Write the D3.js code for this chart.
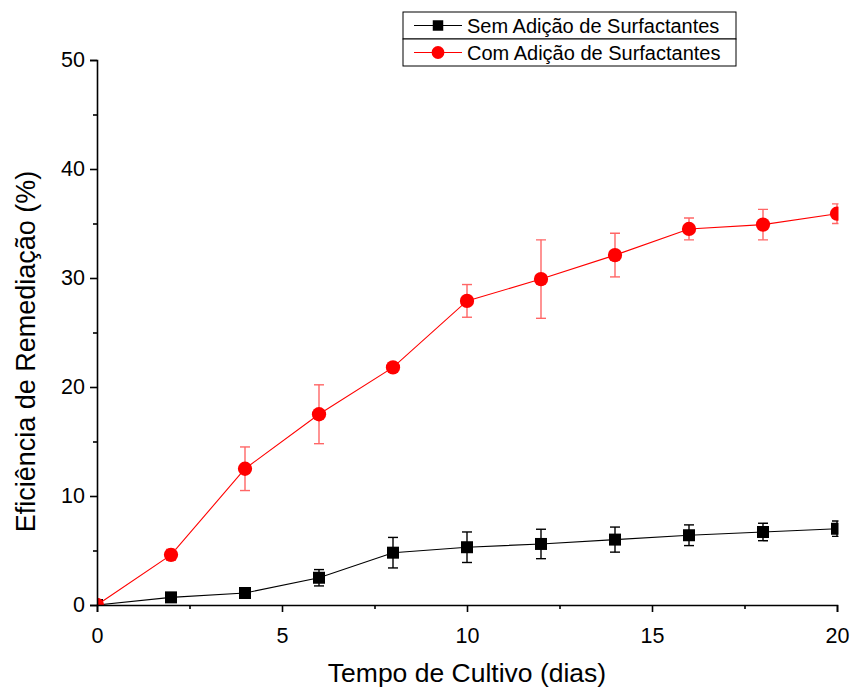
<!DOCTYPE html>
<html>
<head>
<meta charset="utf-8">
<script src="https://cdn.jsdelivr.net/npm/d3@7"></script>
<style>
  body { margin: 0; background: #fff; }
  svg { font-family: "Liberation Sans", Arial, sans-serif; }
</style>
</head>
<body>
<svg id="chart" width="852" height="690"></svg>
<script>
// days of cultivation
const days = [0, 2, 4, 6, 8, 10, 12, 14, 16, 18, 20];
// Sem Adição de Surfactantes
const semValues = [0, 0.7, 1.1, 2.5, 4.8, 5.3, 5.6, 6.0, 6.4, 6.7, 7.0];
const semErrors = [0, 0, 0, 0.75, 1.4, 1.4, 1.35, 1.15, 0.95, 0.8, 0.7];
// Com Adição de Surfactantes
const comValues = [0, 4.6, 12.5, 17.5, 21.8, 27.9, 29.9, 32.1, 34.5, 34.9, 35.9];
const comErrors = [0, 0.5, 2.0, 2.7, 0.3, 1.5, 3.6, 2.0, 1.0, 1.4, 0.9];

const xTicks = [0, 5, 10, 15, 20];
const yTicks = [0, 10, 20, 30, 40, 50];

const svg = d3.select('#chart');

const x = d3.scaleLinear().domain([0, 20]).range([97, 837]);
const y = d3.scaleLinear().domain([0, 50]).range([605, 60]);

const series = [
  { name: 'Sem Adição de Surfactantes', values: semValues, errors: semErrors, color: '#000', errColor: '#000', shape: 'square' },
  { name: 'Com Adição de Surfactantes', values: comValues, errors: comErrors, color: '#ff0000', errColor: '#ff6666', shape: 'circle' }
];

// plot area clip (markers at the edges are cut like in the original)
svg.append('defs').append('clipPath').attr('id', 'plot-clip')
  .append('rect')
  .attr('x', x(0)).attr('y', y(50))
  .attr('width', x(20) - x(0) + 1.5).attr('height', y(0) - y(50));

const line = d3.line().x(d => x(d[0])).y(d => y(d[1]));
const plot = svg.append('g').attr('clip-path', 'url(#plot-clip)');

series.forEach(s => {
  const pts = days.map((d, i) => [d, s.values[i], s.errors[i]]);
  const g = plot.append('g');

  g.append('path')
    .datum(pts)
    .attr('d', line)
    .attr('fill', 'none')
    .attr('stroke', s.color)
    .attr('stroke-width', 1.1);

  const eb = g.selectAll('g.err').data(pts.filter(p => p[2] > 0)).enter().append('g')
    .attr('stroke', s.errColor)
    .attr('stroke-width', 1.4);
  eb.append('line')
    .attr('x1', d => x(d[0])).attr('x2', d => x(d[0]))
    .attr('y1', d => y(d[1] - d[2])).attr('y2', d => y(d[1] + d[2]));
  eb.append('line')
    .attr('x1', d => x(d[0]) - 5).attr('x2', d => x(d[0]) + 5)
    .attr('y1', d => y(d[1] + d[2])).attr('y2', d => y(d[1] + d[2]));
  eb.append('line')
    .attr('x1', d => x(d[0]) - 5).attr('x2', d => x(d[0]) + 5)
    .attr('y1', d => y(d[1] - d[2])).attr('y2', d => y(d[1] - d[2]));

  const sym = d3.symbol().type(s.shape === 'square' ? d3.symbolSquare : d3.symbolCircle)
    .size(s.shape === 'square' ? 144 : 160);
  g.selectAll('path.marker').data(pts).enter().append('path')
    .attr('class', 'marker')
    .attr('transform', d => `translate(${x(d[0])},${y(d[1])})`)
    .attr('d', sym)
    .attr('fill', s.color);
});

// axes
const xAxis = svg.append('g')
  .attr('transform', `translate(0,${y(0)})`)
  .call(d3.axisBottom(x).tickValues(xTicks).tickSize(7).tickFormat(d3.format('d')));
svg.append('g')
  .attr('transform', `translate(0,${y(0)})`)
  .call(d3.axisBottom(x).tickValues(d3.range(2.5, 20, 5)).tickSize(4).tickFormat(''))
  .select('.domain').remove();

const yAxis = svg.append('g')
  .attr('transform', `translate(${x(0)},0)`)
  .call(d3.axisLeft(y).tickValues(yTicks).tickSize(7).tickPadding(5));
svg.append('g')
  .attr('transform', `translate(${x(0)},0)`)
  .call(d3.axisLeft(y).tickValues(d3.range(5, 50, 10)).tickSize(4).tickFormat(''))
  .select('.domain').remove();

svg.selectAll('.domain').attr('stroke-width', 1.6).attr('stroke', '#000');
svg.selectAll('.tick line').attr('stroke-width', 1.6).attr('stroke', '#000');
svg.selectAll('.tick text').attr('font-size', 21.5).attr('fill', '#000')
  .attr('font-family', '"Liberation Sans", Arial, sans-serif');
xAxis.selectAll('.tick text').attr('y', 38).attr('dy', null);

// axis titles
svg.append('text')
  .attr('x', (x(0) + x(20)) / 2)
  .attr('y', 682)
  .attr('text-anchor', 'middle')
  .attr('font-size', 26.5)
  .text('Tempo de Cultivo (dias)');

svg.append('text')
  .attr('transform', `translate(35,${(y(0) + y(50)) / 2 + 19}) rotate(-90)`)
  .attr('text-anchor', 'middle')
  .attr('font-size', 27)
  .text('Eficiência de Remediação (%)');

// legend
const legend = svg.append('g').attr('transform', 'translate(403,12)');
series.forEach((s, i) => {
  const row = legend.append('g').attr('transform', `translate(0,${i * 27})`);
  row.append('rect')
    .attr('width', 333).attr('height', 27)
    .attr('fill', '#fff').attr('stroke', '#000').attr('stroke-width', 1);
  row.append('line')
    .attr('x1', 11).attr('x2', 59).attr('y1', 13.5).attr('y2', 13.5)
    .attr('stroke', s.color).attr('stroke-width', 1.1);
  row.append('path')
    .attr('transform', 'translate(35,13.5)')
    .attr('d', d3.symbol().type(s.shape === 'square' ? d3.symbolSquare : d3.symbolCircle)
      .size(s.shape === 'square' ? 110 : 130))
    .attr('fill', s.color);
  row.append('text')
    .attr('x', 64).attr('y', 20.5)
    .attr('font-size', 20)
    .text(s.name);
});
</script>
</body>
</html>
